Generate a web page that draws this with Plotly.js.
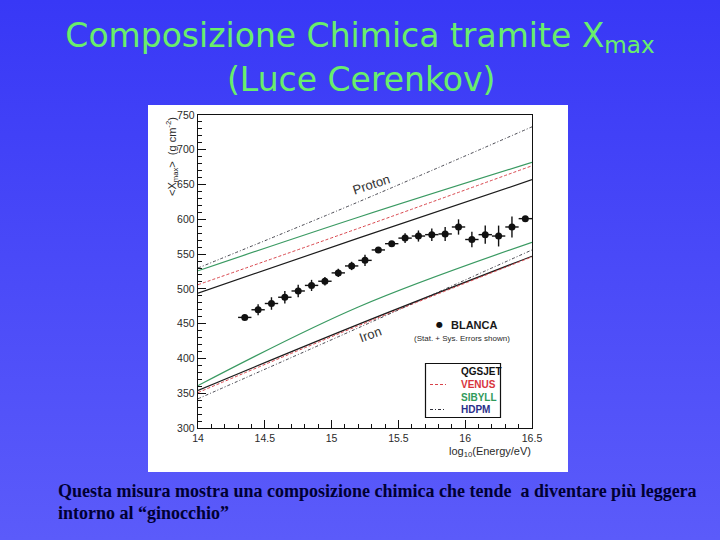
<!DOCTYPE html>
<html>
<head>
<meta charset="utf-8">
<script src="https://cdn.plot.ly/plotly-3.0.1.min.js"></script>
<style>
html, body { margin:0; padding:0; width:720px; height:540px; overflow:hidden;
  background: linear-gradient(to bottom, #3838f6 0%, #4a4af8 50%, #5b5bfa 100%); }
#chart { width:720px; height:540px; }
</style>
</head>
<body>
<div id="chart"></div>
<script>
// ---- data ----
const energy = [14.35,14.45,14.55,14.65,14.75,14.85,14.95,15.05,15.15,15.25,15.35,15.45,15.55,15.65,15.75,15.85,15.95,16.05,16.15,16.25,16.35,16.45];
const xmaxBlanca = [459,470,479,488,497,505,511,523,533,541,556,565,573,576,578,579,589,571,578,576,589,601];
const xmaxErr = [3,8,9,9,9,8,6,6,6,8,3,3,7,8,9,10,11,11,13,15,15,3];

const modelX = [14, 15.2, 16.5];
const pQGSJET = [494, 573, 657];
const pVENUS  = [506, 587, 677];
const pSIBYLL = [526, 603, 682];
const pHDPM   = [530, 625, 733];
const feQGSJET = [354, 449, 547];
const feVENUS  = [351, 447, 546];
const feSIBYLL = [361, 474, 567];
const feHDPM   = [342, 444, 556];

const models = ['QGSJET', 'VENUS', 'SIBYLL', 'HDPM'];
const xTickVals = [14, 14.5, 15, 15.5, 16, 16.5];
const xTickText = ['14', '14.5', '15', '15.5', '16', '16.5'];
const yTickVals = [300, 350, 400, 450, 500, 550, 600, 650, 700, 750];
const yTickText = ['300', '350', '400', '450', '500', '550', '600', '650', '700', '750'];

// ---- styles ----
const styles = {
  QGSJET: {color:'#1c1c1c', width:1.2, dash:'solid', text:'#111111'},
  VENUS:  {color:'#d8434a', width:1.0, dash:'3px,2px', text:'#d8343c'},
  SIBYLL: {color:'#3a9a62', width:1.2, dash:'solid', text:'#2f9a5a'},
  HDPM:   {color:'#30303a', width:0.9, dash:'3px,2px,1px,2px', text:'#2a2f8a'}
};
const proton = {QGSJET:pQGSJET, VENUS:pVENUS, SIBYLL:pSIBYLL, HDPM:pHDPM};
const iron = {QGSJET:feQGSJET, VENUS:feVENUS, SIBYLL:feSIBYLL, HDPM:feHDPM};

const traces = [];
models.forEach(m => {
  [['p', proton], ['Fe', iron]].forEach(([tag, set]) => {
    traces.push({
      type:'scatter', mode:'lines', name: m + ' ' + tag,
      x: modelX, y: set[m], showlegend:false, hoverinfo:'skip',
      line:{color:styles[m].color, width:styles[m].width, dash:styles[m].dash, shape:'spline', smoothing:1}
    });
  });
});
traces.push({
  type:'scatter', mode:'markers', name:'BLANCA', x: energy, y: xmaxBlanca,
  showlegend:false,
  marker:{color:'#111111', size:7},
  error_y:{type:'data', array:xmaxErr, visible:true, color:'#111111', thickness:1.4, width:0},
  error_x:{type:'constant', value:0.05, visible:true, color:'#111111', thickness:1.4, width:0}
});

// ---- layout helpers (pixel -> paper) ----
const L = 198, R = 532, T = 115, B = 428;
const px = p => (p - L) / (R - L);
const py = p => (B - p) / (B - T);
const ann = (text, x, y, font, extra) => Object.assign({text:text, x:px(x), y:py(y), xref:'paper', yref:'paper',
  xanchor:'center', yanchor:'middle', showarrow:false, font:font}, extra || {});
const sans = (size, color, weight) => ({family:'Arial, Liberation Sans', size:size, color:color, weight:weight || 'normal'});
const serif = {family:'Liberation Serif, Times New Roman', size:18, color:'#000033', weight:'bold'};
const titleFont = {family:'DejaVu Sans', size:33, color:'#69ee6b'};

const annotations = [
  ann('(Luce Cerenkov)', 361, 79, titleFont),
  ann('&lt;X<sub>max</sub>&gt;  (g cm<sup>-2</sup>)', 172, 157, sans(11, '#2a2a2a'), {textangle:-90}),
  ann('log<sub>10</sub>(Energy/eV)', 533, 452, sans(11, '#2a2a2a'), {xanchor:'right'}),
  ann('Proton', 371, 184, sans(13, '#333333'), {textangle:-18}),
  ann('Iron', 370, 334, sans(13, '#333333'), {textangle:-20}),
  ann('●', 439.5, 324.5, {family:'DejaVu Sans', size:8, color:'#111111'}),
  ann('<b>BLANCA</b>', 449, 324.5, sans(11, '#1a1a1a'), {xanchor:'left'}),
  ann('(Stat. + Sys. Errors shown)', 462, 338.5, sans(8, '#2a2a2a')),
  ann('Questa misura mostra una composizione chimica che tende  a diventare più leggera', 56, 491, serif, {xanchor:'left'}),
  ann('intorno al “ginocchio”', 56, 512.5, serif, {xanchor:'left'})
];

const legendRows = [371, 384.5, 397, 409.5];
const shapes = [
  {type:'rect', xref:'paper', yref:'paper', x0:px(148), x1:px(568), y0:py(472), y1:py(105),
   fillcolor:'#ffffff', line:{width:0}, layer:'below'},
  {type:'rect', xref:'paper', yref:'paper', x0:px(425.5), x1:px(500.5), y0:py(417.5), y1:py(363.5),
   fillcolor:'rgba(0,0,0,0)', line:{color:'#111111', width:1.2}}
];
models.forEach((m, i) => {
  annotations.push(ann('<b>' + m + '</b>', 459, legendRows[i], sans(10, styles[m].text), {xanchor:'left'}));
  if (m === 'VENUS' || m === 'HDPM') {
    shapes.push({type:'line', xref:'paper', yref:'paper', x0:px(430), x1:px(446), y0:py(legendRows[i]), y1:py(legendRows[i]),
      line:{color:styles[m].color, width:1, dash:styles[m].dash}});
  }
});

const axisCommon = {
  showline:true, linecolor:'#111111', linewidth:1.3, mirror:true,
  showgrid:false, zeroline:false, ticks:'inside', ticklen:8, tickwidth:1, tickcolor:'#111111',
  tickfont:{family:'Arial, Liberation Sans', size:10.5, color:'#2a2a2a'}
};

const layout = {
  width:720, height:540,
  margin:{l:L, r:720-R, t:T, b:540-B, pad:0},
  paper_bgcolor:'rgba(0,0,0,0)', plot_bgcolor:'#ffffff',
  showlegend:false,
  title:{text:'Composizione Chimica tramite X<sub>max</sub>',
    xref:'container', x:0.5, xanchor:'center', yref:'container', y:1 - 35/540, yanchor:'middle',
    font:titleFont},
  xaxis: Object.assign({}, axisCommon, {range:[14, 16.5], tickvals:xTickVals, ticktext:xTickText,
    minor:{tickvals:[14.1,14.2,14.3,14.4,14.6,14.7,14.8,14.9,15.1,15.2,15.3,15.4,15.6,15.7,15.8,15.9,16.1,16.2,16.3,16.4], ticks:'inside', ticklen:4, tickcolor:'#111111'}}),
  yaxis: Object.assign({}, axisCommon, {range:[300, 750], tickvals:yTickVals, ticktext:yTickText,
    minor:{dtick:10, ticks:'inside', ticklen:4, tickcolor:'#111111'}}),
  annotations: annotations,
  shapes: shapes
};

Plotly.newPlot('chart', traces, layout, {staticPlot:true, displayModeBar:false});
</script>
</body>
</html>
